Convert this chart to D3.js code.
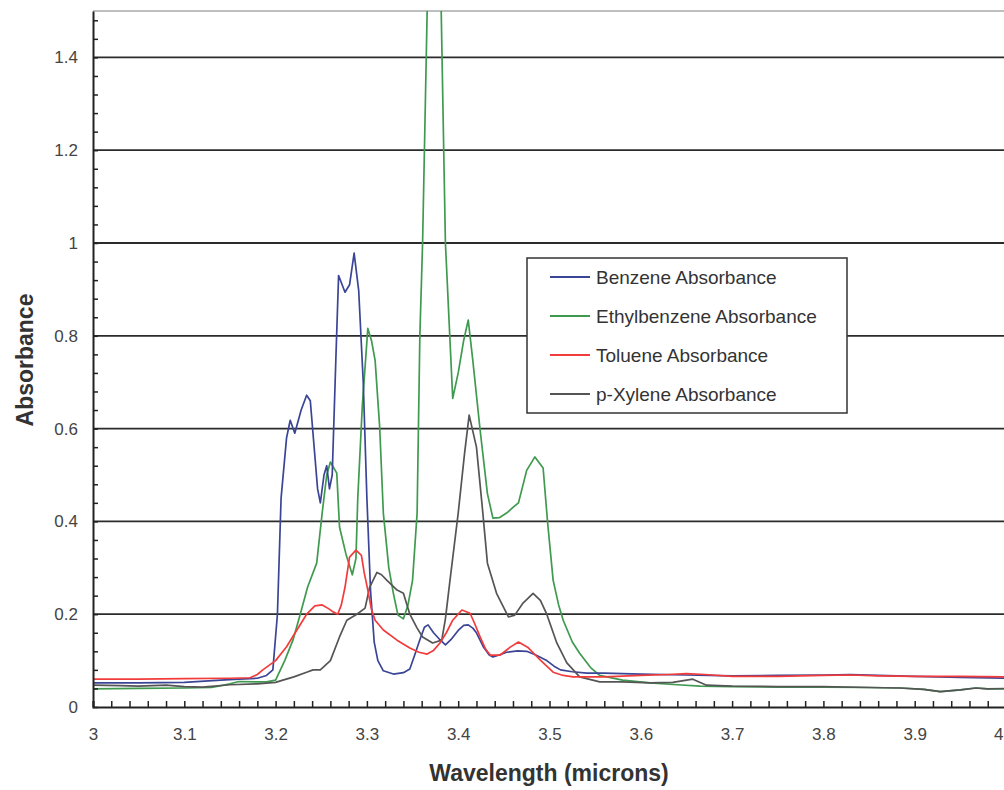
<!DOCTYPE html>
<html lang="en">
  <head>
    <meta charset="utf-8" />
    <style>
      body { margin: 0; background: #fff; }
      svg { display: block; font-family: "Liberation Sans", Arial, sans-serif; }
    </style>
  </head>
  <body>
    <script type="text/javascript" src="https://d3js.org/d3.v7.min.js"></script>
    <script>
      // absorbance spectra as [wavelength, absorbance]
      var benzene = [
        [3.0, 0.052], [3.05, 0.052], [3.1, 0.053], [3.14, 0.058], [3.16, 0.06], [3.18, 0.062],
        [3.19, 0.068], [3.197, 0.08], [3.202, 0.2], [3.206, 0.45], [3.212, 0.58], [3.216, 0.618],
        [3.221, 0.59], [3.228, 0.64], [3.234, 0.672], [3.238, 0.66], [3.246, 0.47], [3.249, 0.44],
        [3.253, 0.5], [3.256, 0.52], [3.259, 0.47], [3.262, 0.5], [3.266, 0.75], [3.269, 0.93],
        [3.276, 0.894], [3.281, 0.91], [3.286, 0.978], [3.291, 0.898], [3.296, 0.7], [3.3, 0.45],
        [3.304, 0.25], [3.308, 0.14], [3.312, 0.1], [3.318, 0.078], [3.329, 0.071], [3.34, 0.074],
        [3.347, 0.082], [3.352, 0.11], [3.358, 0.145], [3.363, 0.172], [3.367, 0.177], [3.373, 0.16],
        [3.38, 0.145], [3.386, 0.134], [3.392, 0.145], [3.4, 0.165], [3.406, 0.176], [3.411, 0.177],
        [3.416, 0.17], [3.42, 0.16], [3.428, 0.128], [3.434, 0.112], [3.438, 0.108], [3.445, 0.112],
        [3.453, 0.118], [3.465, 0.121], [3.475, 0.12], [3.485, 0.112], [3.497, 0.1], [3.505, 0.088],
        [3.512, 0.08], [3.525, 0.076], [3.541, 0.073], [3.56, 0.073], [3.6, 0.071], [3.65, 0.069],
        [3.7, 0.067], [3.75, 0.068], [3.8, 0.069], [3.83, 0.07], [3.86, 0.068], [3.9, 0.066],
        [3.95, 0.064], [4.0, 0.062]
      ];
      var ethylbenzene = [
        [3.0, 0.039], [3.05, 0.04], [3.1, 0.041], [3.13, 0.042], [3.15, 0.05], [3.16, 0.055],
        [3.18, 0.054], [3.19, 0.054], [3.2, 0.058], [3.21, 0.1], [3.219, 0.144], [3.227, 0.2],
        [3.235, 0.258], [3.245, 0.31], [3.251, 0.418], [3.256, 0.5], [3.26, 0.528], [3.267, 0.504],
        [3.27, 0.388], [3.277, 0.33], [3.284, 0.285], [3.288, 0.32], [3.29, 0.45], [3.295, 0.65],
        [3.301, 0.816], [3.305, 0.79], [3.309, 0.747], [3.314, 0.603], [3.318, 0.418], [3.324, 0.3],
        [3.329, 0.245], [3.334, 0.198], [3.34, 0.19], [3.345, 0.22], [3.35, 0.273], [3.355, 0.418],
        [3.358, 0.8], [3.361, 1.0], [3.374, 2.3], [3.386, 1.0], [3.391, 0.79], [3.394, 0.665],
        [3.4, 0.72], [3.406, 0.79], [3.411, 0.834], [3.416, 0.747], [3.424, 0.597], [3.432, 0.46],
        [3.438, 0.407], [3.445, 0.408], [3.453, 0.418], [3.46, 0.43], [3.466, 0.44], [3.475, 0.51],
        [3.484, 0.539], [3.493, 0.515], [3.498, 0.396], [3.504, 0.273], [3.51, 0.22], [3.515, 0.187],
        [3.525, 0.14], [3.533, 0.116], [3.545, 0.085], [3.555, 0.068], [3.58, 0.058], [3.61, 0.052],
        [3.64, 0.048], [3.665, 0.045], [3.7, 0.044], [3.75, 0.043], [3.8, 0.043], [3.85, 0.042],
        [3.884, 0.041], [3.91, 0.038], [3.928, 0.033], [3.95, 0.037], [3.967, 0.041], [3.98, 0.039],
        [4.0, 0.039]
      ];
      var toluene = [
        [3.0, 0.06], [3.05, 0.06], [3.1, 0.061], [3.15, 0.062], [3.172, 0.063], [3.18, 0.07],
        [3.186, 0.08], [3.2, 0.1], [3.212, 0.13], [3.223, 0.165], [3.234, 0.2], [3.243, 0.218],
        [3.251, 0.22], [3.258, 0.212], [3.263, 0.205], [3.268, 0.2], [3.272, 0.22], [3.276, 0.258],
        [3.281, 0.323], [3.288, 0.338], [3.294, 0.327], [3.297, 0.29], [3.301, 0.252], [3.305, 0.21],
        [3.309, 0.187], [3.318, 0.166], [3.333, 0.144], [3.347, 0.127], [3.357, 0.118], [3.366, 0.114],
        [3.373, 0.122], [3.38, 0.138], [3.387, 0.16], [3.394, 0.187], [3.404, 0.209], [3.413, 0.202],
        [3.418, 0.18], [3.424, 0.151], [3.43, 0.125], [3.435, 0.112], [3.446, 0.112], [3.457, 0.129],
        [3.466, 0.14], [3.476, 0.129], [3.49, 0.101], [3.504, 0.075], [3.515, 0.068], [3.526, 0.065],
        [3.56, 0.065], [3.6, 0.068], [3.63, 0.07], [3.65, 0.072], [3.67, 0.07], [3.7, 0.066],
        [3.75, 0.066], [3.8, 0.068], [3.83, 0.069], [3.86, 0.067], [3.9, 0.066], [3.95, 0.066],
        [4.0, 0.065]
      ];
      var pXylene = [
        [3.0, 0.047], [3.03, 0.046], [3.05, 0.045], [3.08, 0.047], [3.1, 0.044], [3.12, 0.043],
        [3.15, 0.048], [3.18, 0.05], [3.2, 0.053], [3.208, 0.058], [3.22, 0.065], [3.234, 0.075],
        [3.241, 0.08], [3.249, 0.08], [3.26, 0.1], [3.27, 0.151], [3.278, 0.187], [3.289, 0.2],
        [3.298, 0.213], [3.303, 0.258], [3.311, 0.29], [3.316, 0.285], [3.322, 0.273], [3.333, 0.252],
        [3.34, 0.245], [3.347, 0.2], [3.355, 0.17], [3.361, 0.151], [3.372, 0.138], [3.382, 0.144],
        [3.386, 0.19], [3.391, 0.273], [3.4, 0.418], [3.407, 0.547], [3.412, 0.629], [3.42, 0.56],
        [3.427, 0.418], [3.432, 0.31], [3.442, 0.245], [3.455, 0.194], [3.462, 0.198], [3.471, 0.224],
        [3.482, 0.245], [3.49, 0.23], [3.497, 0.2], [3.508, 0.138], [3.519, 0.095], [3.533, 0.065],
        [3.555, 0.054], [3.58, 0.054], [3.61, 0.052], [3.635, 0.053], [3.657, 0.06], [3.672, 0.047],
        [3.7, 0.045], [3.75, 0.044], [3.8, 0.044], [3.85, 0.042], [3.884, 0.041], [3.91, 0.038],
        [3.928, 0.033], [3.95, 0.037], [3.967, 0.041], [3.98, 0.039], [4.0, 0.04]
      ];

      var seriesNames = ["Benzene Absorbance", "Ethylbenzene Absorbance", "Toluene Absorbance", "p-Xylene Absorbance"];
      var seriesColors = ["#3b4596", "#3f9a4f", "#f23c3c", "#555555"];
      var xTicks = [3, 3.1, 3.2, 3.3, 3.4, 3.5, 3.6, 3.7, 3.8, 3.9, 4];
      var yTicks = [0, 0.2, 0.4, 0.6, 0.8, 1, 1.2, 1.4];

      var width = 1004,
        height = 790;
      var margin = { left: 93, top: 11, bottom: 83 };

      var svg = d3.select("body").append("svg")
        .attr("width", width)
        .attr("height", height);

      var x = d3.scaleLinear().domain([3, 4]).range([margin.left, 1006]);
      var y = d3.scaleLinear().domain([0, 1.5]).range([height - margin.bottom, margin.top]);

      // horizontal grid
      svg.append("g")
        .selectAll("line")
        .data(yTicks.filter(function (d) { return d > 0; }))
        .join("line")
        .attr("x1", x(3)).attr("x2", x(4))
        .attr("y1", function (d) { return y(d); })
        .attr("y2", function (d) { return y(d); })
        .attr("stroke", "#2b2b2b")
        .attr("stroke-width", 1.8);

      // top frame line
      svg.append("line")
        .attr("x1", x(3)).attr("x2", x(4))
        .attr("y1", y(1.5)).attr("y2", y(1.5))
        .attr("stroke", "#aaa").attr("stroke-width", 1.5);

      svg.append("clipPath").attr("id", "plot")
        .append("rect")
        .attr("x", x(3)).attr("y", y(1.5))
        .attr("width", x(4) - x(3)).attr("height", y(0) - y(1.5));

      var line = d3.line()
        .x(function (d) { return x(d[0]); })
        .y(function (d) { return y(d[1]); });

      var allSeries = [benzene, ethylbenzene, toluene, pXylene];
      // green underneath, red on top like in the picture
      var drawOrder = [1, 0, 3, 2];
      svg.append("g")
        .attr("clip-path", "url(#plot)")
        .selectAll("path")
        .data(drawOrder)
        .join("path")
        .attr("d", function (i) { return line(allSeries[i]); })
        .attr("fill", "none")
        .attr("stroke", function (i) { return seriesColors[i]; })
        .attr("stroke-width", 1.7)
        .attr("stroke-linejoin", "round");

      // minor ticks, pointing into the plot
      var xMinor = d3.range(0, 51).map(function (i) { return 3 + i * 0.02; });
      var yMinor = d3.range(0, 38).map(function (i) { return i * 0.04; });

      svg.append("g")
        .attr("transform", "translate(0," + y(0) + ")")
        .call(d3.axisBottom(x).tickValues(xMinor).tickSize(-6).tickFormat(""))
        .call(function (g) {
          g.select(".domain").attr("stroke", "#222").attr("stroke-width", 2);
          g.selectAll(".tick line").attr("stroke", "#222").attr("stroke-width", 1.5);
        });

      svg.append("g")
        .attr("transform", "translate(" + x(3) + ",0)")
        .call(d3.axisLeft(y).tickValues(yMinor).tickSize(-5).tickFormat("").tickSizeOuter(0))
        .call(function (g) {
          g.select(".domain").attr("stroke", "#222").attr("stroke-width", 2);
          g.selectAll(".tick line").attr("stroke", "#222").attr("stroke-width", 1.5);
        });

      // tick labels
      svg.append("g")
        .attr("transform", "translate(0," + y(0) + ")")
        .call(d3.axisBottom(x).tickValues(xTicks).tickSize(0).tickPadding(21).tickFormat(d3.format("~g")))
        .call(function (g) {
          g.select(".domain").remove();
          g.selectAll("text").attr("font-size", 17).attr("fill", "#444")
            .attr("font-family", "Liberation Sans, Arial, sans-serif");
          // last label sits at the page edge, keep it on the page
          g.selectAll("text").filter(function (d) { return d === 4; })
            .attr("text-anchor", "end").attr("x", -3);
        });

      svg.append("g")
        .attr("transform", "translate(" + x(3) + ",0)")
        .call(d3.axisLeft(y).tickValues(yTicks).tickSize(0).tickPadding(15).tickFormat(d3.format("~g")))
        .call(function (g) {
          g.select(".domain").remove();
          g.selectAll("text").attr("font-size", 17).attr("fill", "#444")
            .attr("font-family", "Liberation Sans, Arial, sans-serif");
        });

      // axis titles
      svg.append("text")
        .attr("x", 549).attr("y", 781)
        .attr("text-anchor", "middle")
        .attr("font-size", 23).attr("font-weight", "bold").attr("fill", "#333")
        .text("Wavelength (microns)");

      svg.append("text")
        .attr("transform", "translate(33,360) rotate(-90)")
        .attr("text-anchor", "middle")
        .attr("font-size", 23).attr("font-weight", "bold").attr("fill", "#333")
        .text("Absorbance");

      // legend
      var legend = svg.append("g").attr("transform", "translate(527,258)");
      legend.append("rect")
        .attr("width", 320).attr("height", 155)
        .attr("fill", "#fff").attr("stroke", "#333").attr("stroke-width", 1.5);
      var item = legend.selectAll("g.item")
        .data(seriesNames)
        .join("g")
        .attr("class", "item")
        .attr("transform", function (d, i) { return "translate(0," + (19 + i * 39) + ")"; });
      item.append("line")
        .attr("x1", 23).attr("x2", 63)
        .attr("stroke", function (d, i) { return seriesColors[i]; })
        .attr("stroke-width", 1.8);
      item.append("text")
        .attr("x", 69).attr("dy", "0.35em")
        .attr("font-size", 19).attr("fill", "#333")
        .text(function (d) { return d; });
    </script>
  </body>
</html>
